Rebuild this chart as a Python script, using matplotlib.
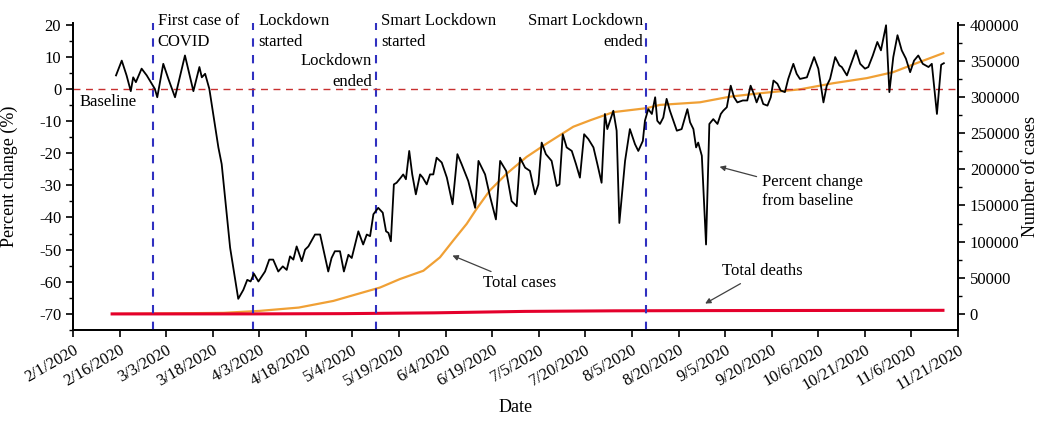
import numpy as np
import matplotlib
matplotlib.use("Agg")
import matplotlib.pyplot as plt
from matplotlib.ticker import MultipleLocator

plt.rcParams['font.family'] = ['Liberation Serif', 'DejaVu Serif']
plt.rcParams['font.size'] = 12
plt.rcParams['axes.unicode_minus'] = False

# x values are days after 2/1/2020
tick_labels = ['2/1/2020', '2/16/2020', '3/3/2020', '3/18/2020', '4/3/2020', '4/18/2020',
               '5/4/2020', '5/19/2020', '6/4/2020', '6/19/2020', '7/5/2020', '7/20/2020',
               '8/5/2020', '8/20/2020', '9/5/2020', '9/20/2020', '10/6/2020', '10/21/2020',
               '11/6/2020', '11/21/2020']

# percent change from baseline
pct_days = [14.3, 16.2, 17.8, 19.2, 20.0, 20.9, 22.8, 24.5, 27.2, 28.0, 30.0, 31.7, 33.9, 37.2,
            38.9, 40.0, 42.0, 42.8, 43.9, 45.3, 48.3, 49.4, 52.2, 54.9, 56.6, 57.9, 59.0, 60.1,
            61.6, 63.8, 65.2, 66.5, 68.2, 69.7, 71.0, 72.1, 73.2, 74.3, 76.0, 77.1, 78.2, 80.4,
            82.1, 83.7, 84.8, 85.9, 87.0, 88.7, 90.0, 91.5, 92.6, 94.8, 96.4, 97.6, 98.7, 99.8,
            101.4, 102.9, 104.0, 104.8, 105.6, 106.6, 107.5, 108.9, 109.7, 110.6, 111.7, 112.7,
            113.9, 115.3, 116.2, 117.5, 118.6, 119.7, 120.8, 122.5, 124.2, 126.1, 127.7, 129.1,
            131.3, 133.6, 134.7, 136.9, 138.5, 140.5, 141.9, 143.9, 145.7, 147.4, 148.5, 150.2,
            151.8, 153.5, 154.6, 155.7, 157.1, 159.0, 160.7, 161.6, 162.7, 164.0, 165.7, 167.1,
            168.4, 169.8, 171.2, 172.9, 174.2, 175.6, 176.7, 177.5, 179.5, 180.6, 181.5, 183.4,
            185.0, 186.7, 187.8, 189.3, 190.0, 191.1, 192.3, 193.4, 194.1, 195.0, 196.1, 197.2,
            198.3, 200.6, 202.2, 204.1, 205.0, 206.1, 207.0, 207.7, 208.9, 210.3, 211.4, 212.7,
            214.1, 215.2, 216.0, 217.2, 218.5, 219.6, 220.7, 222.5, 224.0, 225.1, 226.2, 227.1,
            228.2, 229.3, 230.7, 231.8, 232.7, 234.0, 235.1, 236.5, 237.6, 239.3, 240.4, 241.5,
            243.8, 246.2, 247.6, 249.3, 250.4, 251.5, 253.2, 254.6, 255.4, 257.1, 258.1, 260.1,
            261.5, 263.1, 264.2, 265.7, 267.2, 268.4, 270.1, 271.2, 272.5, 273.9, 275.3, 276.7,
            278.1, 279.4, 280.8, 282.3, 284.2, 285.3, 287.0, 288.4, 289.3]
pct_vals = [4.2, 8.8, 4.2, -0.7, 3.6, 2.1, 6.3, 4.2, 0, -2.6, 7.8, 3.1, -2.6, 10.4,
            3.6, -0.7, 6.8, 3.6, 4.7, 0, -18.2, -23.4, -49.4, -65.3, -62.5, -59.4, -59.9, -57.5,
            -59.9, -56.8, -53.1, -53.1, -56.8, -55.2, -56.3, -52.1, -53.1, -49, -53.6, -50, -49, -45.3,
            -45.3, -52.1, -56.8, -52.6, -50.5, -50.5, -56.8, -51.6, -52.6, -44.3, -48.4, -45.3, -45.8, -39,
            -37, -38.5, -44.3, -44.8, -47.4, -29.7, -29.2, -27.6, -26.6, -28.1, -19.3, -26.6,
            -32.8, -26.6, -27.6, -29.7, -26.6, -26.6, -21.4, -22.9, -27.6, -35.9, -20.3, -23.4,
            -28.6, -37, -22.4, -26.6, -33.3, -40.6, -22.4, -25.5, -34.9, -36.5, -21.4, -24.5,
            -25.5, -32.8, -29.7, -16.7, -20.3, -22.4, -30.2, -29.7, -14.1, -18.2, -19.3, -23.4,
            -27.6, -14.1, -15.6, -18.2, -23.4, -29.2, -7.8, -12.5, -6.8, -13, -41.7, -22.4,
            -12.5, -17.2, -19.3, -16.2, -9.9, -6.3, -7.8, -2.6, -9.9, -10.9, -8.9, -3.1,
            -6.8, -13, -12.5, -6.3, -10.4, -12.5, -18.2, -16.7, -20.8, -48.4, -10.9, -9.4,
            -10.9, -7.8, -6.8, -5.7, 1, -2.6, -4.2, -3.6, -3.6, 1, -1.6, -4.2,
            -1.6, -4.7, -5.2, -2.6, 2.6, 1.6, -0.5, -1, 3.1, 7.8, 4.7, 3.1,
            3.6, 9.9, 6.3, -4.2, 1, 3.1, 9.9, 7.3, 6.8, 4.2, 6.8, 12,
            7.8, 6.3, 6.8, 10.4, 14.6, 12, 19.8, -1, 9.9, 16.7, 12, 9.4,
            5.2, 8.8, 10.4, 7.8, 6.8, 7.8, -7.8, 7.5, 8]

# cumulative cases and deaths (right axis)
case_days = [13, 50, 62, 75, 86.5, 102, 108.6, 116.4, 121.9, 126.3, 130.8, 134.1, 138.5, 144.1,
             150.7, 157.4, 166.2, 172, 179.5, 190.6, 195, 208.3, 218.3, 228.2, 241.5, 252.6,
             263.7, 272.5, 280.3, 289.1]
case_vals = [0, 1500, 4200, 8800, 18000, 36500, 48200, 59700, 78200, 101400, 124600, 145400,
             170800, 194000, 217100, 235700, 258800, 268000, 279000, 284500, 289000, 292600,
             300400, 305100, 310500, 319000, 326000, 334300, 346800, 360500]
death_days = [13, 60, 90, 120, 150, 180, 210, 250, 289]
death_vals = [0, 50, 400, 1500, 3500, 4300, 4600, 4800, 5000]

event_days = [26.6, 59.8, 100.5, 190.5]

fig = plt.figure(figsize=(10.47, 4.22), dpi=100)
ax = fig.add_axes([0.0697, 0.218, 0.8453, 0.7275])
ax2 = ax.twinx()

for d in event_days:
    ax.axvline(d, color='#3030c0', ls=(0, (4, 4)), lw=1.5)
ax.axhline(0, color='#c83030', ls=(0, (5, 4)), lw=1)

ax.plot(pct_days, pct_vals, color='black', lw=1.3, zorder=5)
ax2.plot(case_days, case_vals, color='#f0a035', lw=1.6)
ax2.plot(death_days, death_vals, color='#e4002b', lw=2.2)

ax.set_xlim(0, 294)
ax.set_ylim(-75, 20.5)
ax2.set_ylim((-75 + 70) * 400000 / 90, (20.5 + 70) * 400000 / 90)

ax.set_xticks(np.linspace(0, 294, len(tick_labels)))
ax.set_xticklabels(tick_labels, rotation=30, ha='right', rotation_mode='anchor')
ax.yaxis.set_minor_locator(MultipleLocator(5))
ax.set_yticks(np.arange(-70, 21, 10))
ax2.set_yticks(np.arange(0, 400001, 50000))
ax2.yaxis.set_minor_locator(MultipleLocator(25000))

for a in (ax, ax2):
    a.spines['top'].set_visible(False)
    for s in a.spines.values():
        s.set_linewidth(1.3)
    a.tick_params(which='major', length=5, width=1.2)
    a.tick_params(which='minor', length=3, width=1)

ax.set_ylabel('Percent change (%)', fontsize=13)
ax.yaxis.set_label_coords(-0.062, 0.5)
ax2.set_ylabel('Number of cases', fontsize=13)
ax2.yaxis.set_label_coords(1.072, 0.5)
ax.set_xlabel('Date', fontsize=13)
ax.xaxis.set_label_coords(0.5, -0.225)

ax.text(2.3, -4.1, 'Baseline', va='center', ha='left')
ax.text(28.2, 17.8, 'First case of\nCOVID', va='center', ha='left', linespacing=1.4)
ax.text(61.5, 17.8, 'Lockdown\nstarted', va='center', ha='left', linespacing=1.4)
ax.text(99.3, 5.3, 'Lockdown\nended', va='center', ha='right', multialignment='right', linespacing=1.4)
ax.text(102.3, 17.8, 'Smart Lockdown\nstarted', va='center', ha='left', linespacing=1.4)
ax.text(189.4, 17.8, 'Smart Lockdown\nended', va='center', ha='right', multialignment='right', linespacing=1.4)

arrow = dict(arrowstyle='-|>', color='#404040', lw=0.9, mutation_scale=8)
ax.annotate('Total cases', xy=(125.2, -51.5), xytext=(136.2, -60.5), va='center', ha='left',
            arrowprops=arrow, zorder=6)
ax.annotate('Percent change\nfrom baseline', xy=(213.9, -24), xytext=(228.9, -31.9), va='center',
            ha='left', arrowprops=arrow, linespacing=1.2, zorder=6)
ax.annotate('Total deaths', xy=(209.2, -67.2), xytext=(215.5, -56.8), va='center', ha='left',
            arrowprops=arrow, zorder=6)

ax.set_zorder(ax2.get_zorder() + 1)
ax.patch.set_visible(False)

fig.savefig('out.png', dpi=100)
